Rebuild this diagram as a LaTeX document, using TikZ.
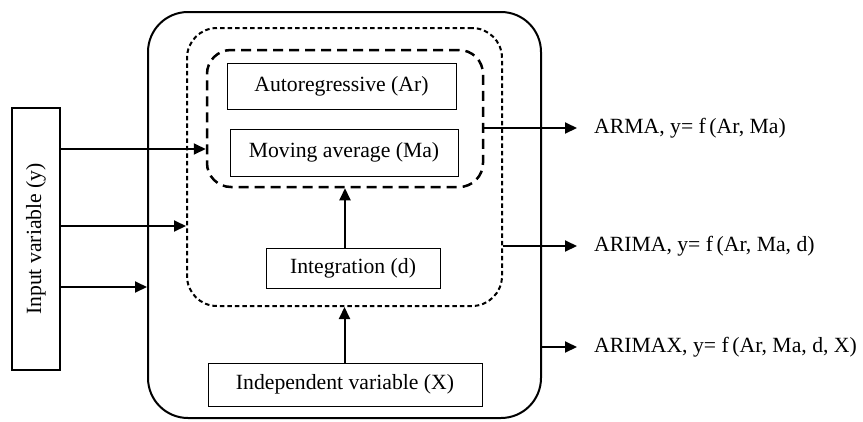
\documentclass[tikz,border=0pt]{standalone}
\usepackage{fontspec}
\setmainfont{Liberation Serif}
\usetikzlibrary{arrows.meta,positioning,calc}

\begin{document}
\begin{tikzpicture}[
    x=1pt, y=-1pt,
    >={Triangle[length=12pt,width=11pt]},
    box/.style={rectangle, draw, line width=1pt, inner sep=0pt, align=center, font=\fontsize{21.7}{26}\selectfont},
    frame/.style={rectangle, draw, inner sep=0pt},
    arrow/.style={->, line width=2pt},
    outlbl/.style={anchor=west, inner sep=2pt, inner xsep=17pt, font=\fontsize{21.7}{26}\selectfont},
]
\useasboundingbox (0,0) rectangle (863,421);

% containers
\node[frame, line width=2pt, rounded corners=40pt, minimum width=393pt, minimum height=406pt] (outer) at (344.5,215) {};
\node[frame, line width=2pt, dash pattern=on 4.5pt off 3pt, rounded corners=30pt, minimum width=315pt, minimum height=278pt] (mid) at (344.5,167) {};
\node[frame, line width=2.5pt, dash pattern=on 10pt off 6pt, rounded corners=24pt, minimum width=276pt, minimum height=137pt] (inner) at (345,118.5) {};

% model parts
\node[box, minimum width=229pt, minimum height=46pt] (ar) at (341.5,86) {Autoregressive (Ar)};
\node[box, minimum width=228pt, minimum height=47pt] (ma) at (344,152.5) {Moving average (Ma)};
\node[box, minimum width=174pt, minimum height=40pt] (int) at (353,268) {Integration (d)};
\node[box, minimum width=274pt, minimum height=43pt] (ind) at (345,384.5) {Independent variable (X)};
\node[box, line width=2pt, minimum width=262pt, minimum height=48pt, rotate=90] (inp) at (36,239) {Input variable (y)};

% outputs
\node[outlbl] (arma) at (577,128) {ARMA, y= f\,(Ar, Ma)};
\node[outlbl] (arima) at (577,246) {ARIMA, y= f\,(Ar, Ma, d)};
\node[outlbl] (arimax) at (577,347) {ARIMAX, y= f\,(Ar, Ma, d, X)};

\draw[arrow] (inp.south |- 0,149) -- (inner.west |- 0,149);
\draw[arrow] (inp.south |- 0,226) -- (mid.west |- 0,226);
\draw[arrow] (inp.south |- 0,287) -- (outer.west |- 0,287);
\draw[arrow] (int.north -| inner.south) -- (inner.south);
\draw[arrow] (ind.north -| mid.south) -- (mid.south);
\draw[arrow] (inner.east |- arma) -- (arma.west);
\draw[arrow] (mid.east |- arima) -- (arima.west);
\draw[arrow] (outer.east |- arimax) -- (arimax.west);
\end{tikzpicture}
\end{document}
